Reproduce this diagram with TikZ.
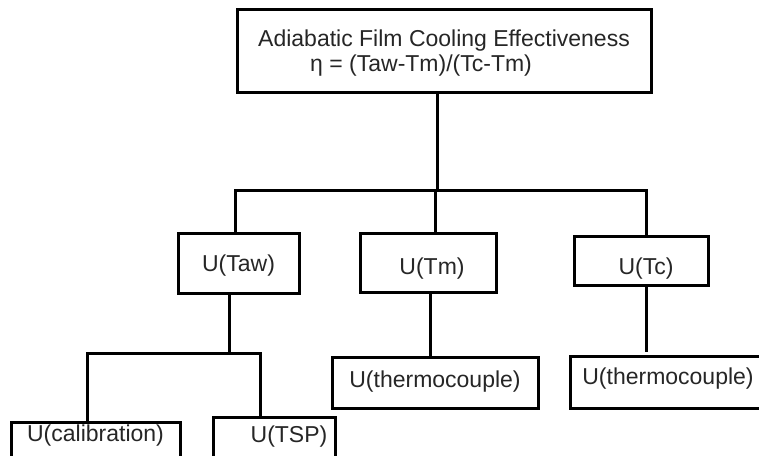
\documentclass[tikz,border=0pt]{standalone}
\usepackage{fontspec}
\setmainfont{Liberation Sans}
\newcommand\shiftedtext[2]{\raisebox{#1}[0pt][0pt]{#2}}
\begin{document}
\begin{tikzpicture}[x=1pt,y=-1pt,
  box/.style={draw=black,line width=3pt,rectangle,inner sep=0pt,text=black!85,
    font=\fontsize{23}{25}\selectfont,fill=white},
  wire/.style={draw=black,line width=3pt}]
\useasboundingbox (0,0) rectangle (759,455);
\clip (0,0) rectangle (759,455);
\node[box,minimum width=414pt,minimum height=83pt] (top) at (444,50.5)
  {\shiftedtext{4.5pt}{\vtop{\hbox{Adiabatic Film Cooling Effectiveness}\hbox{\hspace*{52pt}η = (Taw-Tm)/(Tc-Tm)}}}};
\node[box,minimum width=121pt,minimum height=60pt] (taw) at (238.5,263) {\shiftedtext{-8.7pt}{U(Taw)}};
\node[box,minimum width=136pt,minimum height=59pt] (tm) at (428,262.5) {\shiftedtext{-11.5pt}{\hspace*{8pt}U(Tm)}};
\node[box,minimum width=134pt,minimum height=49pt] (tc) at (641,260.5) {\shiftedtext{-13.8pt}{\hspace*{10pt}U(Tc)}};
\node[box,minimum width=206pt,minimum height=51pt] (th1) at (435,382.5) {\shiftedtext{-5pt}{U(thermocouple)}};
\node[box,minimum width=200pt,minimum height=52pt] (th2) at (670,382) {\shiftedtext{-2pt}{U(thermocouple)\hspace*{4pt}}};
\node[box,minimum width=169pt,minimum height=48pt] (cal) at (95.5,446) {\shiftedtext{4.3pt}{U(calibration)}};
\node[box,minimum width=122pt,minimum height=53pt] (tsp) at (274,443.5) {\shiftedtext{0.8pt}{\hspace*{30pt}U(TSP)}};
% main bus
\coordinate (bus) at (437,190);
\coordinate (busL) at (235,190);
\coordinate (busR) at (646,190);
\draw[wire] (top.south -| bus) -- (bus);
\draw[wire,line cap=rect] (busL) -- (busR);
\draw[wire] (busL) -- (busL |- taw.north);
\draw[wire] (435,190) -- (tm.north -| 435,0);
\draw[wire] (busR) -- (busR |- tc.north);
% Taw sub-bus
\coordinate (sub) at (229,353);
\coordinate (subL) at (87,353);
\coordinate (subR) at (260,353);
\draw[wire] (taw.south -| sub) -- (sub);
\draw[wire,line cap=rect] (subL) -- (subR);
\draw[wire] (subL) -- (subL |- cal.north);
\draw[wire] (subR) -- (subR |- tsp.north);
% Tm and Tc leaves
\draw[wire] (tm.south -| 430,0) -- (th1.north -| 430,0);
\coordinate (tcend) at (646,352);
\draw[wire] (tc.south -| tcend) -- (tcend);
\end{tikzpicture}
\end{document}
